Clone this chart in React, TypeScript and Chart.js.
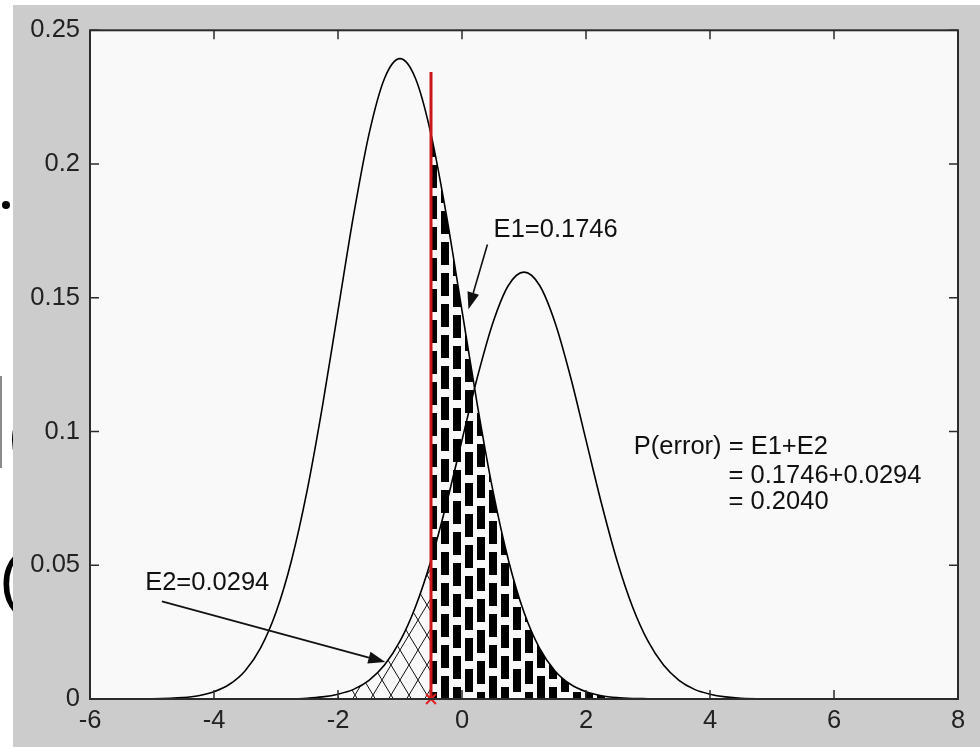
import React, { useEffect, useRef } from "react";
import { Chart, registerables } from "chart.js";

Chart.register(...registerables);

// ---- data ----
const xs = [
  -6, -5, -4.5, -4.25, -4, -3.75, -3.5, -3.25, -3, -2.75, -2.5, -2.25, -2, -1.75, -1.5, -1.25,
  -1, -0.75, -0.5, -0.25, 0, 0.25, 0.5, 0.75, 1, 1.25, 1.5, 1.75, 2, 2.25, 2.5, 2.75, 3, 3.25,
  3.5, 3.75, 4, 4.25, 4.5, 5, 6, 7, 8,
];
// class 1 density (peak near x = -1)
const class1 = [
  0, 0.0001, 0.0005, 0.0012, 0.0027, 0.0055, 0.0105, 0.019, 0.0324, 0.0518, 0.0777, 0.1096,
  0.1452, 0.1807, 0.2112, 0.232, 0.2394, 0.232, 0.2112, 0.1807, 0.1452, 0.1096, 0.0777, 0.0518,
  0.0324, 0.019, 0.0105, 0.0055, 0.0027, 0.0012, 0.0005, 0.0002, 0.0001, 0, 0, 0, 0, 0, 0, 0, 0,
  0, 0,
];
// class 2 density (peak near x = 1)
const class2 = [
  0, 0, 0, 0, 0, 0, 0, 0, 0.0001, 0.0001, 0.0003, 0.0008, 0.0018, 0.0036, 0.007, 0.0127, 0.0216,
  0.0345, 0.0518, 0.0731, 0.0968, 0.1205, 0.1408, 0.1547, 0.1596, 0.1547, 0.1408, 0.1205, 0.0968,
  0.0731, 0.0518, 0.0345, 0.0216, 0.0127, 0.007, 0.0036, 0.0018, 0.0008, 0.0003, 0.0001, 0, 0, 0,
];
const threshold = -0.5;
const thresholdTop = 0.2344;
const hatchStart = -2;

const xTickValues = [-6, -4, -2, 0, 2, 4, 6, 8];
const yTickValues = [0, 0.05, 0.1, 0.15, 0.2, 0.25];

const textLabels = [
  { text: "E1=0.1746", x: 0.51, y: 0.1729 },
  { text: "E2=0.0294", x: -5.11, y: 0.0406 },
  { text: "P(error) = E1+E2", x: 2.77, y: 0.0917 },
  { text: "= 0.1746+0.0294", x: 4.3, y: 0.0808 },
  { text: "= 0.2040", x: 4.3, y: 0.0712 },
];
const arrows = [
  { x1: 0.41, y1: 0.1699, x2: 0.104, y2: 0.1457 },
  { x1: -4.84, y1: 0.0365, x2: -1.237, y2: 0.0138 },
];

const FONT = '"Liberation Sans", Arial, sans-serif';

function makeDashPattern(ctx: CanvasRenderingContext2D) {
  const c = document.createElement("canvas");
  c.width = 48;
  c.height = 31;
  const g = c.getContext("2d")!;
  g.fillStyle = "#000";
  const cols = [
    { x: 8, off: 0 },
    { x: 20, off: 13 },
    { x: 32, off: 5 },
    { x: 44, off: 20 },
  ];
  for (const col of cols) {
    for (const dx of [0, -48]) {
      for (const dy of [0, -31, 31]) {
        g.fillRect(col.x + dx, col.off + dy, 8, 23);
      }
    }
  }
  return ctx.createPattern(c, "repeat")!;
}

function makeHatchPattern(ctx: CanvasRenderingContext2D) {
  const c = document.createElement("canvas");
  c.width = 18;
  c.height = 30;
  const g = c.getContext("2d")!;
  g.strokeStyle = "#111";
  g.lineWidth = 1;
  g.beginPath();
  for (const s of [-1, 0, 1]) {
    g.moveTo(-18 + s * 18, 60);
    g.lineTo(36 + s * 18, -30);
    g.moveTo(-18 + s * 18, -30);
    g.lineTo(36 + s * 18, 60);
  }
  g.stroke();
  return ctx.createPattern(c, "repeat")!;
}

const bgPlugin = {
  id: "bg",
  beforeDraw(chart: any) {
    const { ctx, chartArea: a, width, height } = chart;
    ctx.save();
    ctx.fillStyle = "#cccccc";
    ctx.fillRect(0, 0, width, height);
    ctx.fillStyle = "#f9f9f9";
    ctx.fillRect(a.left, a.top, a.right - a.left, a.bottom - a.top);
    ctx.restore();
  },
};

const framePlugin = {
  id: "frame",
  afterDraw(chart: any) {
    const { ctx, chartArea: a, scales } = chart;
    const sx = scales.x;
    const sy = scales.y;
    ctx.save();
    ctx.strokeStyle = "#2b2b2b";
    ctx.lineWidth = 2;
    ctx.strokeRect(a.left, a.top, a.right - a.left, a.bottom - a.top);
    ctx.lineWidth = 1.5;
    ctx.beginPath();
    for (const v of xTickValues) {
      const px = sx.getPixelForValue(v);
      ctx.moveTo(px, a.bottom);
      ctx.lineTo(px, a.bottom - 9);
      ctx.moveTo(px, a.top);
      ctx.lineTo(px, a.top + 9);
    }
    for (const v of yTickValues) {
      const py = sy.getPixelForValue(v);
      ctx.moveTo(a.left, py);
      ctx.lineTo(a.left + 9, py);
      ctx.moveTo(a.right, py);
      ctx.lineTo(a.right - 9, py);
    }
    ctx.stroke();

    // annotations
    ctx.fillStyle = "#111";
    ctx.strokeStyle = "#111";
    ctx.font = `25.5px ${FONT}`;
    ctx.textAlign = "left";
    ctx.textBaseline = "alphabetic";
    for (const t of textLabels) {
      ctx.fillText(t.text, sx.getPixelForValue(t.x), sy.getPixelForValue(t.y));
    }
    ctx.lineWidth = 1.6;
    for (const ar of arrows) {
      const x1 = sx.getPixelForValue(ar.x1);
      const y1 = sy.getPixelForValue(ar.y1);
      const x2 = sx.getPixelForValue(ar.x2);
      const y2 = sy.getPixelForValue(ar.y2);
      const ang = Math.atan2(y2 - y1, x2 - x1);
      const L = 17;
      const W = 6;
      const bx = x2 - L * Math.cos(ang);
      const by = y2 - L * Math.sin(ang);
      ctx.beginPath();
      ctx.moveTo(x1, y1);
      ctx.lineTo(bx, by);
      ctx.stroke();
      ctx.beginPath();
      ctx.moveTo(x2, y2);
      ctx.lineTo(bx + W * Math.sin(ang), by - W * Math.cos(ang));
      ctx.lineTo(bx - W * Math.sin(ang), by + W * Math.cos(ang));
      ctx.closePath();
      ctx.fill();
    }
    ctx.restore();
  },
};

export default function App() {
  const ref = useRef<HTMLCanvasElement>(null);

  useEffect(() => {
    const canvas = ref.current!;
    const ctx = canvas.getContext("2d")!;
    const dash = makeDashPattern(ctx);
    const hatch = makeHatchPattern(ctx);
    const c1 = xs.map((x, i) => ({ x, y: class1[i] }));
    const c2 = xs.map((x, i) => ({ x, y: class2[i] }));
    const e1 = c1.filter((p) => p.x >= threshold);
    const e2 = c2.filter((p) => p.x >= hatchStart && p.x <= threshold);

    const chart = new Chart(canvas, {
      type: "line",
      data: {
        datasets: [
          {
            data: [{ x: threshold, y: 0 }],
            showLine: false,
            pointStyle: "crossRot",
            pointRadius: 7,
            pointBorderColor: "#e02020",
            pointBorderWidth: 2,
            clip: false as any,
          },
          {
            data: [
              { x: threshold, y: 0 },
              { x: threshold, y: thresholdTop },
            ],
            borderColor: "#c81818",
            borderWidth: 3,
            pointRadius: 0,
            tension: 0,
          },
          {
            data: c1,
            borderColor: "#000",
            borderWidth: 1.6,
            pointRadius: 0,
            cubicInterpolationMode: "monotone",
          },
          {
            data: c2,
            borderColor: "#000",
            borderWidth: 1.6,
            pointRadius: 0,
            cubicInterpolationMode: "monotone",
          },
          {
            data: e1,
            borderWidth: 0,
            borderColor: "rgba(0,0,0,0)",
            pointRadius: 0,
            fill: "origin",
            backgroundColor: dash as any,
            cubicInterpolationMode: "monotone",
          },
          {
            data: e2,
            borderWidth: 0,
            borderColor: "rgba(0,0,0,0)",
            pointRadius: 0,
            fill: "origin",
            backgroundColor: hatch as any,
            cubicInterpolationMode: "monotone",
          },
        ],
      },
      options: {
        responsive: false,
        devicePixelRatio: 1,
        animation: false,
        layout: { padding: { top: 23, right: 22, left: 0, bottom: 0 } },
        plugins: { legend: { display: false }, tooltip: { enabled: false } },
        scales: {
          x: {
            type: "linear",
            min: -6,
            max: 8,
            grid: { display: false, drawTicks: false },
            border: { display: false },
            afterBuildTicks: (s: any) => {
              s.ticks = xTickValues.map((v) => ({ value: v }));
            },
            afterFit: (s: any) => {
              s.height = 48;
            },
            ticks: {
              padding: 7,
              color: "#222",
              font: { family: FONT, size: 25.5 },
              maxRotation: 0,
              autoSkip: false,
              callback: (v: any) => String(v),
            },
          },
          y: {
            type: "linear",
            min: 0,
            max: 0.25,
            grid: { display: false, drawTicks: false },
            border: { display: false },
            afterBuildTicks: (s: any) => {
              s.ticks = yTickValues.map((v) => ({ value: v }));
            },
            afterFit: (s: any) => {
              s.width = 77;
            },
            ticks: {
              padding: 10,
              color: "#222",
              font: { family: FONT, size: 25.5 },
              autoSkip: false,
              callback: (v: any) => String(+Number(v).toFixed(2)),
            },
          },
        },
      },
      plugins: [bgPlugin, framePlugin],
    });
    return () => chart.destroy();
  }, []);

  return (
    <div
      style={{
        position: "fixed",
        left: 0,
        top: 0,
        width: 980,
        height: 747,
        background: "#fff",
        overflow: "hidden",
      }}
    >
      <div
        style={{
          position: "absolute",
          left: 2,
          top: 201,
          width: 8,
          height: 8,
          borderRadius: "50%",
          background: "#000",
        }}
      />
      <div
        style={{
          position: "absolute",
          left: 0,
          top: 376,
          width: 1.5,
          height: 92,
          background: "#8a8a8a",
        }}
      />
      <span
        style={{
          position: "absolute",
          left: 8,
          top: 403,
          fontFamily: FONT,
          fontSize: 64,
          lineHeight: "64px",
          color: "#000",
        }}
      >
        (
      </span>
      <span
        style={{
          position: "absolute",
          left: -0.5,
          top: 547,
          fontFamily: FONT,
          fontSize: 64,
          lineHeight: "64px",
          color: "#000",
        }}
      >
        (
      </span>
      <div style={{ position: "absolute", left: 13, top: 5, width: 967, height: 742 }}>
        <canvas
          ref={ref}
          width={967}
          height={742}
          style={{ display: "block", width: 967, height: 742 }}
        />
      </div>
    </div>
  );
}
